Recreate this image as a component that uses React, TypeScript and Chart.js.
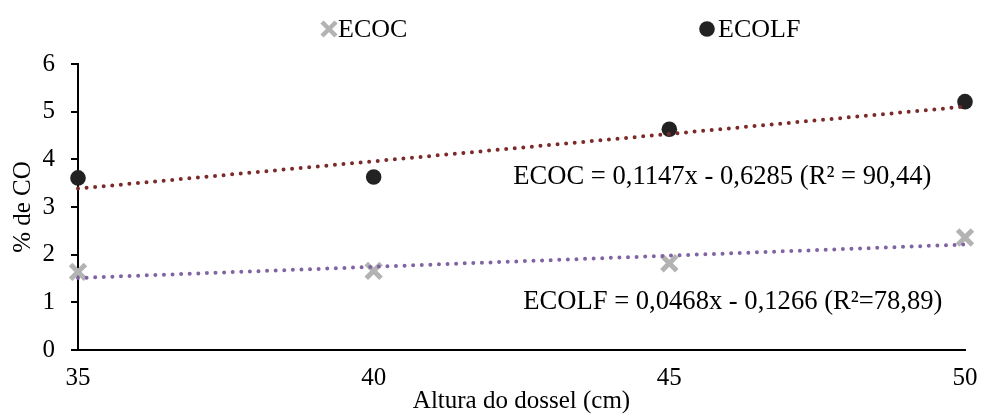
import React, { useEffect, useRef } from "react";
import { Chart, registerables } from "chart.js";

Chart.register(...registerables);

// Canopy height (cm) on the x axis
const heights = [35, 40, 45, 50];
// % CO for each fraction
const ecoc = [1.64, 1.66, 1.82, 2.36];
const ecolf = [3.61, 3.63, 4.63, 5.21];
const seriesNames = ["ECOC", "ECOLF"];

// Printed fitted lines: [slope, intercept]
const fitUpper = [0.1147, -0.6285];
const fitLower = [0.0468, -0.1266];
const fitUpperLabel = "ECOC = 0,1147x - 0,6285 (R² = 90,44)";
const fitLowerLabel = "ECOLF = 0,0468x - 0,1266 (R²=78,89)";

const xTicks = [35, 40, 45, 50];
const yTicks = [0, 1, 2, 3, 4, 5, 6];

const xTitle = "Altura do dossel (cm)";
const yTitle = "% de CO";

const SERIF = "'Liberation Serif', 'Times New Roman', serif";
const GREY = "#b3b3b3";
const BLACK = "#222222";
const RED = "#7b2a2a";
const PURPLE = "#8064a2";

function fitLine(coef: number[]) {
  const xs = [heights[0], heights[heights.length - 1]];
  return xs.map((x) => ({ x, y: coef[0] * x + coef[1] }));
}

const legendAndLabels = {
  id: "legendAndLabels",
  afterDatasetsDraw(chart: any) {
    const { ctx, scales } = chart;
    const xs = scales.x;
    const ys = scales.y;
    ctx.save();
    ctx.fillStyle = "#000";
    ctx.textBaseline = "middle";
    ctx.textAlign = "left";
    ctx.font = `26.6px ${SERIF}`;
    ctx.fillText(fitUpperLabel, xs.getPixelForValue(42.36), ys.getPixelForValue(3.63));
    ctx.fillText(fitLowerLabel, xs.getPixelForValue(42.53), ys.getPixelForValue(1.0));

    // legend row
    const ly = 29;
    // cross marker
    const cx = 329;
    const r = 7;
    ctx.strokeStyle = GREY;
    ctx.lineWidth = 4.5;
    ctx.beginPath();
    ctx.moveTo(cx - r, ly - r);
    ctx.lineTo(cx + r, ly + r);
    ctx.moveTo(cx + r, ly - r);
    ctx.lineTo(cx - r, ly + r);
    ctx.stroke();
    ctx.font = `26px ${SERIF}`;
    ctx.fillStyle = "#000";
    ctx.fillText(seriesNames[0], 338, ly + 1);
    // dot marker
    ctx.fillStyle = BLACK;
    ctx.beginPath();
    ctx.arc(707, ly, 7.8, 0, Math.PI * 2);
    ctx.fill();
    ctx.fillStyle = "#000";
    ctx.fillText(seriesNames[1], 718, ly + 1);
    ctx.restore();
  },
};

export default function App() {
  const ref = useRef<HTMLCanvasElement>(null);

  useEffect(() => {
    if (!ref.current) return;
    const chart = new Chart(ref.current, {
      type: "scatter",
      data: {
        datasets: [
          {
            type: "line",
            label: "fit-upper",
            data: fitLine(fitUpper),
            borderColor: RED,
            borderWidth: 4,
            borderDash: [0, 8.6],
            borderCapStyle: "round",
            pointRadius: 0,
            fill: false,
            clip: false,
            order: 0,
          },
          {
            type: "line",
            label: "fit-lower",
            data: fitLine(fitLower),
            borderColor: PURPLE,
            borderWidth: 4,
            borderDash: [0, 8.6],
            borderCapStyle: "round",
            pointRadius: 0,
            fill: false,
            clip: false,
            order: 0,
          },
          {
            label: seriesNames[0],
            data: heights.map((x, i) => ({ x, y: ecoc[i] })),
            pointStyle: "crossRot",
            pointRadius: 10.5,
            pointBorderWidth: 5,
            borderColor: GREY,
            backgroundColor: GREY,
            clip: false,
            order: 1,
          },
          {
            label: seriesNames[1],
            data: heights.map((x, i) => ({ x, y: ecolf[i] })),
            pointStyle: "circle",
            pointRadius: 7.8,
            pointBorderWidth: 0,
            borderColor: BLACK,
            backgroundColor: BLACK,
            clip: false,
            order: 1,
          },
        ],
      },
      options: {
        responsive: false,
        animation: false,
        devicePixelRatio: 1,
        layout: { padding: { top: 64, right: 0, bottom: 0, left: 0 } },
        plugins: {
          legend: { display: false },
          tooltip: { enabled: false },
        },
        scales: {
          x: {
            type: "linear",
            min: 35,
            max: 50,
            afterBuildTicks: (s: any) => {
              s.ticks = xTicks.map((v) => ({ value: v }));
            },
            afterFit: (s: any) => {
              s.height = 64;
              s.paddingRight = 16;
              s.paddingLeft = 0;
            },
            grid: { display: false },
            border: { display: true, color: "#000", width: 2 },
            ticks: {
              color: "#000",
              padding: 5,
              maxRotation: 0,
              font: { family: SERIF, size: 25 },
            },
            title: {
              display: true,
              text: xTitle,
              color: "#000",
              padding: 0,
              font: { family: SERIF, size: 25, lineHeight: 1 },
            },
          },
          y: {
            min: 0,
            max: 6,
            afterBuildTicks: (s: any) => {
              s.ticks = yTicks.map((v) => ({ value: v }));
            },
            afterFit: (s: any) => {
              s.width = 78;
            },
            grid: {
              display: true,
              drawOnChartArea: false,
              drawTicks: true,
              tickLength: 7,
              color: "#000",
              lineWidth: 2,
            },
            border: { display: true, color: "#000", width: 2 },
            ticks: {
              color: "#000",
              padding: 16,
              font: { family: SERIF, size: 25 },
            },
            title: {
              display: true,
              text: yTitle,
              color: "#000",
              padding: { top: 8, bottom: 0 },
              font: { family: SERIF, size: 25 },
            },
          },
        },
      },
      plugins: [legendAndLabels],
    });
    return () => chart.destroy();
  }, []);

  return (
    <div style={{ position: "fixed", left: 0, top: 0, width: 981, height: 414, background: "#fff" }}>
      <canvas ref={ref} width={981} height={414} />
    </div>
  );
}
